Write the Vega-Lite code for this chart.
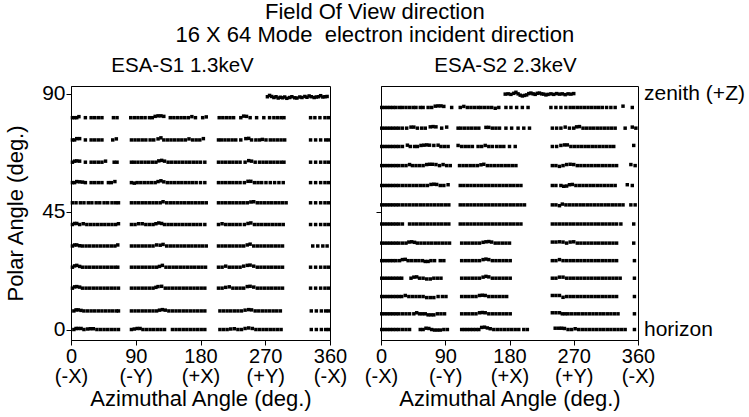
{
  "$schema": "https://vega.github.io/schema/vega-lite/v6.json",
  "padding": {"left": 4, "top": 0, "right": 2, "bottom": 2},
  "title": {
    "text": ["Field Of View direction", "16 X 64 Mode\u00a0 electron incident direction"],
    "fontSize": 22,
    "lineHeight": 23,
    "anchor": "middle",
    "offset": 9
  },
  "datasets": {
    "s1": [
      {"az":273,"pol":88.9},{"az":276,"pol":89.4},{"az":279,"pol":89.0},{"az":282,"pol":88.6},{"az":285,"pol":88.9},{"az":288,"pol":88.4},{"az":291,"pol":88.7},{"az":294,"pol":88.5},{"az":297,"pol":88.8},{"az":300,"pol":88.3},{"az":304,"pol":88.6},{"az":307,"pol":88.9},{"az":311,"pol":88.5},{"az":314,"pol":88.4},{"az":318,"pol":88.8},{"az":321,"pol":88.6},{"az":325,"pol":89.0},{"az":328,"pol":88.7},{"az":331,"pol":89.2},{"az":334,"pol":88.9},{"az":338,"pol":88.6},{"az":341,"pol":88.8},{"az":344,"pol":88.9},{"az":347,"pol":89.3},{"az":350,"pol":88.8},{"az":353,"pol":88.9},{"az":356,"pol":89.0},
      {"az":2,"pol":80.9},{"az":5,"pol":80.9},{"az":8,"pol":80.9},{"az":11,"pol":81.3},{"az":20,"pol":80.9},{"az":28,"pol":80.9},{"az":33,"pol":80.9},{"az":38,"pol":80.9},{"az":43,"pol":80.9},{"az":59,"pol":80.9},{"az":64,"pol":80.9},
      {"az":83,"pol":80.9},{"az":88,"pol":80.9},{"az":93,"pol":80.9},{"az":98,"pol":80.9},{"az":103,"pol":80.9},{"az":109,"pol":80.9},{"az":113,"pol":80.9},{"az":117,"pol":81.4},{"az":121,"pol":81.6},{"az":125,"pol":81.6},{"az":129,"pol":81.4},{"az":138,"pol":80.9},{"az":143,"pol":80.9},{"az":148,"pol":80.9},{"az":153,"pol":80.9},{"az":158,"pol":80.9},{"az":163,"pol":80.9},{"az":168,"pol":81.3},{"az":173,"pol":80.9},{"az":183,"pol":80.9},{"az":188,"pol":81.2},
      {"az":206,"pol":80.9},{"az":211,"pol":80.9},{"az":216,"pol":80.9},{"az":221,"pol":80.9},{"az":226,"pol":80.9},{"az":236,"pol":80.9},{"az":240,"pol":81.5},{"az":244,"pol":81.4},{"az":249,"pol":80.9},{"az":258,"pol":80.9},{"az":268,"pol":80.9},{"az":276,"pol":80.9},{"az":282,"pol":80.9},{"az":287,"pol":80.9},{"az":292,"pol":80.9},{"az":296,"pol":80.9},
      {"az":333,"pol":80.9},{"az":339,"pol":80.9},{"az":346,"pol":80.9},{"az":353,"pol":80.9},{"az":358,"pol":80.9},
      {"az":2,"pol":72.4},{"az":5,"pol":72.4},{"az":8,"pol":72.9},{"az":12,"pol":72.9},{"az":20,"pol":72.4},{"az":28,"pol":72.4},{"az":33,"pol":72.4},{"az":38,"pol":72.4},{"az":43,"pol":72.4},{"az":58,"pol":72.4},{"az":63,"pol":72.8},
      {"az":84,"pol":72.4},{"az":89,"pol":72.4},{"az":94,"pol":72.4},{"az":99,"pol":72.4},{"az":104,"pol":72.4},{"az":110,"pol":72.4},{"az":115,"pol":72.4},{"az":121,"pol":72.8},{"az":125,"pol":73.2},{"az":129,"pol":72.4},{"az":134,"pol":72.4},{"az":139,"pol":72.4},{"az":144,"pol":72.4},{"az":149,"pol":72.4},{"az":154,"pol":72.4},{"az":159,"pol":72.4},{"az":164,"pol":72.8},{"az":169,"pol":72.4},{"az":174,"pol":72.4},{"az":179,"pol":72.4},{"az":184,"pol":72.9},
      {"az":205,"pol":72.4},{"az":209,"pol":72.4},{"az":214,"pol":72.4},{"az":219,"pol":72.4},{"az":224,"pol":72.4},{"az":229,"pol":72.4},{"az":236,"pol":72.4},{"az":243,"pol":72.9},{"az":247,"pol":73.0},{"az":251,"pol":72.4},{"az":257,"pol":72.4},{"az":262,"pol":72.4},{"az":266,"pol":72.6},{"az":271,"pol":72.4},{"az":277,"pol":72.4},{"az":282,"pol":72.4},{"az":287,"pol":72.4},{"az":292,"pol":72.4},{"az":297,"pol":72.4},
      {"az":333,"pol":72.4},{"az":340,"pol":72.4},{"az":347,"pol":72.4},{"az":354,"pol":72.4},{"az":358,"pol":72.4},
      {"az":2,"pol":63.9},{"az":5,"pol":64.3},{"az":8,"pol":64.4},{"az":12,"pol":64.3},{"az":20,"pol":63.9},{"az":28,"pol":63.9},{"az":33,"pol":63.9},{"az":38,"pol":63.9},{"az":43,"pol":63.9},{"az":48,"pol":64.3},{"az":60,"pol":63.9},{"az":64,"pol":63.9},
      {"az":84,"pol":63.9},{"az":88,"pol":63.9},{"az":93,"pol":63.9},{"az":98,"pol":63.9},{"az":103,"pol":63.9},{"az":108,"pol":63.9},{"az":113,"pol":63.9},{"az":118,"pol":63.9},{"az":122,"pol":64.4},{"az":126,"pol":64.6},{"az":130,"pol":64.3},{"az":135,"pol":63.9},{"az":140,"pol":63.9},{"az":145,"pol":63.9},{"az":150,"pol":63.9},{"az":155,"pol":63.9},{"az":160,"pol":63.9},{"az":165,"pol":63.9},{"az":170,"pol":63.9},{"az":175,"pol":63.9},{"az":180,"pol":63.9},{"az":186,"pol":63.9},
      {"az":205,"pol":63.9},{"az":210,"pol":63.9},{"az":215,"pol":63.9},{"az":220,"pol":63.9},{"az":225,"pol":63.9},{"az":230,"pol":63.9},{"az":235,"pol":63.9},{"az":242,"pol":63.9},{"az":247,"pol":64.5},{"az":251,"pol":64.3},{"az":256,"pol":63.9},{"az":262,"pol":63.9},{"az":267,"pol":63.9},{"az":272,"pol":63.9},{"az":277,"pol":63.9},{"az":282,"pol":63.9},{"az":287,"pol":63.9},{"az":292,"pol":63.9},{"az":296,"pol":63.9},
      {"az":333,"pol":63.9},{"az":340,"pol":63.9},{"az":347,"pol":63.9},{"az":353,"pol":63.9},{"az":358,"pol":63.9},
      {"az":2,"pol":56.1},{"az":5,"pol":56.1},{"az":8,"pol":56.5},{"az":12,"pol":56.4},{"az":16,"pol":56.3},{"az":20,"pol":56.1},{"az":28,"pol":56.1},{"az":33,"pol":56.1},{"az":38,"pol":56.1},{"az":43,"pol":56.1},{"az":52,"pol":56.1},{"az":56,"pol":56.1},{"az":61,"pol":56.5},
      {"az":84,"pol":56.1},{"az":88,"pol":55.9},{"az":92,"pol":56.1},{"az":97,"pol":56.1},{"az":102,"pol":56.1},{"az":107,"pol":56.1},{"az":112,"pol":56.1},{"az":117,"pol":56.1},{"az":121,"pol":56.5},{"az":125,"pol":56.8},{"az":129,"pol":56.4},{"az":134,"pol":56.1},{"az":139,"pol":56.1},{"az":144,"pol":56.1},{"az":149,"pol":56.1},{"az":154,"pol":56.1},{"az":159,"pol":56.1},{"az":164,"pol":56.1},{"az":169,"pol":56.1},{"az":174,"pol":56.1},{"az":180,"pol":56.1},{"az":186,"pol":56.1},
      {"az":205,"pol":56.1},{"az":210,"pol":56.1},{"az":215,"pol":56.1},{"az":220,"pol":56.1},{"az":225,"pol":56.1},{"az":230,"pol":56.1},{"az":235,"pol":56.1},{"az":241,"pol":56.1},{"az":246,"pol":56.6},{"az":250,"pol":56.6},{"az":255,"pol":56.1},{"az":260,"pol":56.1},{"az":265,"pol":56.1},{"az":271,"pol":56.1},{"az":277,"pol":56.1},{"az":283,"pol":56.1},{"az":289,"pol":56.1},{"az":295,"pol":56.1},
      {"az":333,"pol":56.1},{"az":340,"pol":56.1},{"az":347,"pol":56.1},{"az":353,"pol":56.1},{"az":358,"pol":56.1},
      {"az":2,"pol":48.4},{"az":7,"pol":48.4},{"az":13,"pol":48.4},{"az":18,"pol":48.4},{"az":24,"pol":48.4},{"az":29,"pol":48.4},{"az":35,"pol":48.4},{"az":40,"pol":48.4},{"az":46,"pol":48.4},{"az":51,"pol":48.4},{"az":57,"pol":48.4},{"az":62,"pol":48.4},{"az":66,"pol":48.4},
      {"az":84,"pol":48.4},{"az":89,"pol":48.4},{"az":94,"pol":48.4},{"az":99,"pol":48.4},{"az":104,"pol":48.4},{"az":109,"pol":48.4},{"az":114,"pol":48.4},{"az":119,"pol":48.4},{"az":124,"pol":48.4},{"az":128,"pol":48.8},{"az":133,"pol":48.4},{"az":138,"pol":48.4},{"az":143,"pol":48.4},{"az":148,"pol":48.4},{"az":153,"pol":48.4},{"az":158,"pol":48.4},{"az":163,"pol":48.4},{"az":168,"pol":48.4},{"az":173,"pol":48.4},{"az":178,"pol":48.4},{"az":183,"pol":48.4},{"az":188,"pol":48.4},
      {"az":205,"pol":48.4},{"az":210,"pol":48.4},{"az":215,"pol":48.4},{"az":220,"pol":48.4},{"az":225,"pol":48.4},{"az":230,"pol":48.4},{"az":235,"pol":48.4},{"az":240,"pol":48.4},{"az":245,"pol":48.4},{"az":250,"pol":48.7},{"az":254,"pol":48.8},{"az":259,"pol":48.4},{"az":264,"pol":48.4},{"az":269,"pol":48.4},{"az":274,"pol":48.4},{"az":279,"pol":48.4},{"az":284,"pol":48.4},{"az":289,"pol":48.4},{"az":294,"pol":48.4},{"az":299,"pol":48.4},
      {"az":333,"pol":48.4},{"az":340,"pol":48.4},{"az":347,"pol":48.4},{"az":353,"pol":48.4},{"az":358,"pol":48.4},
      {"az":2,"pol":40.1},{"az":5,"pol":40.5},{"az":8,"pol":40.5},{"az":12,"pol":40.1},{"az":17,"pol":40.4},{"az":22,"pol":40.1},{"az":27,"pol":40.1},{"az":32,"pol":40.1},{"az":37,"pol":40.1},{"az":42,"pol":40.1},{"az":47,"pol":40.1},{"az":52,"pol":40.1},{"az":57,"pol":40.1},{"az":62,"pol":40.1},{"az":66,"pol":40.4},
      {"az":84,"pol":40.1},{"az":89,"pol":40.1},{"az":94,"pol":40.4},{"az":99,"pol":40.4},{"az":104,"pol":40.1},{"az":109,"pol":40.1},{"az":114,"pol":40.1},{"az":118,"pol":40.4},{"az":122,"pol":40.7},{"az":126,"pol":40.5},{"az":130,"pol":40.1},{"az":135,"pol":40.1},{"az":140,"pol":40.1},{"az":145,"pol":40.1},{"az":150,"pol":40.1},{"az":155,"pol":40.1},{"az":160,"pol":40.1},{"az":165,"pol":40.1},{"az":170,"pol":40.1},{"az":175,"pol":40.1},{"az":180,"pol":40.1},{"az":186,"pol":40.1},
      {"az":205,"pol":40.1},{"az":210,"pol":40.4},{"az":215,"pol":40.1},{"az":220,"pol":40.1},{"az":225,"pol":40.1},{"az":230,"pol":40.1},{"az":235,"pol":40.1},{"az":241,"pol":40.1},{"az":246,"pol":40.5},{"az":250,"pol":40.7},{"az":255,"pol":40.1},{"az":260,"pol":40.1},{"az":265,"pol":40.1},{"az":270,"pol":40.1},{"az":275,"pol":40.1},{"az":280,"pol":40.1},{"az":285,"pol":40.1},{"az":290,"pol":40.1},{"az":295,"pol":40.1},
      {"az":333,"pol":40.1},{"az":340,"pol":40.1},{"az":347,"pol":40.1},{"az":353,"pol":40.1},{"az":358,"pol":40.1},
      {"az":2,"pol":31.9},{"az":5,"pol":32.3},{"az":8,"pol":32.3},{"az":12,"pol":32.0},{"az":16,"pol":31.9},{"az":21,"pol":31.9},{"az":26,"pol":31.9},{"az":31,"pol":31.9},{"az":36,"pol":31.9},{"az":41,"pol":31.9},{"az":46,"pol":31.9},{"az":51,"pol":31.9},{"az":56,"pol":31.9},{"az":61,"pol":31.9},{"az":65,"pol":32.3},
      {"az":84,"pol":31.9},{"az":89,"pol":31.9},{"az":94,"pol":31.9},{"az":99,"pol":31.9},{"az":104,"pol":31.9},{"az":109,"pol":31.9},{"az":114,"pol":31.9},{"az":119,"pol":32.3},{"az":124,"pol":32.2},{"az":128,"pol":32.5},{"az":133,"pol":31.9},{"az":138,"pol":31.9},{"az":143,"pol":31.9},{"az":148,"pol":31.9},{"az":153,"pol":31.9},{"az":158,"pol":31.9},{"az":163,"pol":31.9},{"az":168,"pol":31.9},{"az":173,"pol":31.9},{"az":178,"pol":31.9},{"az":183,"pol":31.9},{"az":188,"pol":31.9},
      {"az":205,"pol":31.9},{"az":210,"pol":31.9},{"az":215,"pol":31.9},{"az":220,"pol":31.9},{"az":225,"pol":31.9},{"az":230,"pol":31.9},{"az":235,"pol":31.9},{"az":240,"pol":31.9},{"az":245,"pol":32.3},{"az":249,"pol":32.6},{"az":254,"pol":31.9},{"az":259,"pol":31.9},{"az":264,"pol":31.9},{"az":269,"pol":31.9},{"az":274,"pol":31.9},{"az":279,"pol":31.9},{"az":284,"pol":31.9},{"az":289,"pol":31.9},{"az":294,"pol":31.9},
      {"az":336,"pol":31.9},{"az":343,"pol":31.9},{"az":350,"pol":31.9},{"az":356,"pol":31.9},
      {"az":2,"pol":23.8},{"az":5,"pol":24.3},{"az":8,"pol":24.5},{"az":12,"pol":24.1},{"az":16,"pol":23.8},{"az":21,"pol":23.8},{"az":26,"pol":23.8},{"az":31,"pol":23.8},{"az":36,"pol":23.8},{"az":41,"pol":23.8},{"az":46,"pol":23.8},{"az":51,"pol":23.8},{"az":56,"pol":23.8},{"az":61,"pol":23.8},{"az":65,"pol":23.8},
      {"az":84,"pol":23.8},{"az":89,"pol":23.8},{"az":94,"pol":23.8},{"az":99,"pol":23.8},{"az":104,"pol":23.8},{"az":109,"pol":23.8},{"az":114,"pol":23.8},{"az":119,"pol":23.8},{"az":123,"pol":24.1},{"az":127,"pol":24.5},{"az":132,"pol":23.8},{"az":137,"pol":23.8},{"az":142,"pol":23.8},{"az":147,"pol":23.8},{"az":152,"pol":23.8},{"az":157,"pol":23.8},{"az":162,"pol":23.8},{"az":167,"pol":23.8},{"az":172,"pol":23.8},{"az":177,"pol":23.8},{"az":182,"pol":23.8},{"az":187,"pol":23.8},
      {"az":205,"pol":23.8},{"az":210,"pol":23.8},{"az":215,"pol":24.2},{"az":220,"pol":23.8},{"az":225,"pol":23.8},{"az":230,"pol":23.8},{"az":235,"pol":23.8},{"az":240,"pol":24.2},{"az":245,"pol":24.5},{"az":249,"pol":24.6},{"az":254,"pol":24.2},{"az":259,"pol":23.8},{"az":264,"pol":23.8},{"az":269,"pol":23.8},{"az":274,"pol":23.8},{"az":279,"pol":23.8},{"az":284,"pol":23.8},{"az":289,"pol":23.8},{"az":294,"pol":23.8},
      {"az":333,"pol":23.8},{"az":340,"pol":23.8},{"az":347,"pol":23.8},{"az":353,"pol":23.8},{"az":358,"pol":23.8},
      {"az":2,"pol":15.8},{"az":5,"pol":16.3},{"az":8,"pol":16.4},{"az":12,"pol":16.2},{"az":16,"pol":15.8},{"az":21,"pol":15.8},{"az":26,"pol":15.8},{"az":31,"pol":15.8},{"az":36,"pol":15.8},{"az":41,"pol":15.8},{"az":46,"pol":15.8},{"az":51,"pol":15.8},{"az":56,"pol":15.8},{"az":61,"pol":15.8},{"az":66,"pol":15.8},
      {"az":84,"pol":15.8},{"az":89,"pol":15.8},{"az":94,"pol":15.8},{"az":99,"pol":15.8},{"az":104,"pol":15.8},{"az":109,"pol":15.8},{"az":114,"pol":15.8},{"az":118,"pol":16.1},{"az":121,"pol":16.4},{"az":126,"pol":16.5},{"az":131,"pol":15.8},{"az":136,"pol":15.8},{"az":141,"pol":15.8},{"az":146,"pol":15.8},{"az":151,"pol":15.8},{"az":156,"pol":15.8},{"az":161,"pol":15.8},{"az":166,"pol":15.8},{"az":171,"pol":15.8},{"az":176,"pol":15.8},{"az":181,"pol":15.8},{"az":186,"pol":15.8},
      {"az":205,"pol":15.8},{"az":210,"pol":15.8},{"az":215,"pol":16.1},{"az":220,"pol":16.3},{"az":225,"pol":15.8},{"az":230,"pol":15.8},{"az":235,"pol":15.8},{"az":240,"pol":15.8},{"az":245,"pol":16.4},{"az":249,"pol":16.5},{"az":254,"pol":16.2},{"az":259,"pol":15.8},{"az":264,"pol":15.8},{"az":269,"pol":15.8},{"az":274,"pol":15.8},{"az":279,"pol":15.8},{"az":284,"pol":15.8},{"az":289,"pol":15.8},{"az":294,"pol":15.8},
      {"az":333,"pol":15.8},{"az":340,"pol":15.8},{"az":347,"pol":15.8},{"az":353,"pol":15.8},{"az":358,"pol":15.8},
      {"az":4,"pol":7.1},{"az":7,"pol":7.5},{"az":10,"pol":7.5},{"az":14,"pol":7.3},{"az":18,"pol":7.1},{"az":23,"pol":7.1},{"az":28,"pol":7.1},{"az":33,"pol":7.1},{"az":38,"pol":7.1},{"az":43,"pol":7.1},{"az":48,"pol":7.1},{"az":53,"pol":7.1},{"az":58,"pol":7.1},{"az":63,"pol":7.1},{"az":66,"pol":7.1},
      {"az":84,"pol":7.1},{"az":89,"pol":7.1},{"az":94,"pol":7.1},{"az":99,"pol":7.1},{"az":104,"pol":7.1},{"az":109,"pol":7.1},{"az":114,"pol":7.1},{"az":119,"pol":7.1},{"az":123,"pol":7.4},{"az":127,"pol":7.6},{"az":131,"pol":7.4},{"az":136,"pol":7.1},{"az":141,"pol":7.1},{"az":146,"pol":7.1},{"az":151,"pol":7.1},{"az":156,"pol":7.1},{"az":161,"pol":7.1},{"az":166,"pol":7.1},{"az":171,"pol":7.1},{"az":176,"pol":7.1},{"az":181,"pol":7.1},{"az":186,"pol":7.1},
      {"az":207,"pol":7.1},{"az":212,"pol":7.1},{"az":217,"pol":7.1},{"az":222,"pol":7.1},{"az":227,"pol":7.1},{"az":232,"pol":7.1},{"az":237,"pol":7.1},{"az":242,"pol":7.4},{"az":247,"pol":7.6},{"az":251,"pol":7.5},{"az":256,"pol":7.1},{"az":261,"pol":7.1},{"az":266,"pol":7.1},{"az":271,"pol":7.1},{"az":276,"pol":7.1},{"az":281,"pol":7.1},{"az":286,"pol":7.1},{"az":291,"pol":7.1},
      {"az":334,"pol":7.1},{"az":341,"pol":7.1},{"az":348,"pol":7.1},{"az":354,"pol":7.1},{"az":358,"pol":7.1},
      {"az":4,"pol":0},{"az":7,"pol":0.4},{"az":10,"pol":0.4},{"az":14,"pol":0.4},{"az":18,"pol":0},{"az":23,"pol":0.2},{"az":27,"pol":0.3},{"az":31,"pol":0.3},{"az":36,"pol":0},{"az":41,"pol":0},{"az":46,"pol":0},{"az":51,"pol":0},{"az":56,"pol":0},{"az":61,"pol":0},{"az":66,"pol":0},
      {"az":84,"pol":0},{"az":88,"pol":0.2},{"az":92,"pol":0.4},{"az":96,"pol":0.4},{"az":100,"pol":0},{"az":105,"pol":0},{"az":110,"pol":0},{"az":115,"pol":0},{"az":120,"pol":0},{"az":125,"pol":0},{"az":130,"pol":0},
      {"az":141,"pol":0},{"az":146,"pol":0},{"az":151,"pol":0},{"az":156,"pol":0},{"az":161,"pol":0},{"az":166,"pol":0},{"az":171,"pol":0},{"az":176,"pol":0},{"az":181,"pol":0},{"az":186,"pol":0},
      {"az":207,"pol":0},{"az":212,"pol":0},{"az":217,"pol":0},{"az":222,"pol":0.2},{"az":227,"pol":0.3},{"az":232,"pol":0},{"az":237,"pol":0},{"az":242,"pol":0.4},{"az":247,"pol":0.6},{"az":252,"pol":0.4},{"az":257,"pol":0},{"az":262,"pol":0},{"az":267,"pol":0},{"az":272,"pol":0},{"az":277,"pol":0},{"az":282,"pol":0},{"az":287,"pol":0},{"az":292,"pol":0},
      {"az":334,"pol":0},{"az":341,"pol":0},{"az":348,"pol":0},{"az":354,"pol":0},{"az":358,"pol":0}
    ],
    "s2": [
      {"az":174,"pol":89.9},{"az":178,"pol":90.0},{"az":182,"pol":89.8},{"az":186,"pol":90.2},{"az":189,"pol":90.6},{"az":192,"pol":90.0},{"az":195,"pol":89.5},{"az":198,"pol":89.2},{"az":201,"pol":89.4},{"az":204,"pol":89.6},{"az":207,"pol":90.1},{"az":210,"pol":90.3},{"az":213,"pol":90.0},{"az":216,"pol":89.8},{"az":219,"pol":90.2},{"az":222,"pol":90.3},{"az":225,"pol":90.0},{"az":228,"pol":89.9},{"az":231,"pol":89.6},{"az":234,"pol":89.8},{"az":238,"pol":90.0},{"az":242,"pol":89.8},{"az":246,"pol":90.1},{"az":250,"pol":89.9},{"az":254,"pol":90.0},{"az":258,"pol":89.7},{"az":262,"pol":90.0},{"az":266,"pol":89.9},{"az":270,"pol":90.1},
      {"az":1,"pol":84.8},{"az":5,"pol":84.8},{"az":9,"pol":84.8},{"az":13,"pol":84.8},{"az":17,"pol":84.8},{"az":21,"pol":84.8},{"az":26,"pol":84.8},{"az":30,"pol":84.8},{"az":35,"pol":84.8},{"az":40,"pol":84.8},{"az":45,"pol":84.8},{"az":49,"pol":84.8},{"az":55,"pol":84.8},{"az":59,"pol":84.8},{"az":66,"pol":84.8},{"az":71,"pol":84.8},{"az":76,"pol":85.3},{"az":80,"pol":85.4},{"az":84,"pol":85.4},{"az":88,"pol":85.2},{"az":99,"pol":84.8},{"az":111,"pol":84.8},{"az":116,"pol":85.2},{"az":121,"pol":84.8},{"az":126,"pol":84.8},{"az":131,"pol":84.8},{"az":136,"pol":84.8},{"az":140,"pol":84.8},{"az":145,"pol":84.8},{"az":150,"pol":84.8},{"az":155,"pol":84.8},{"az":160,"pol":84.5},{"az":165,"pol":84.8},{"az":175,"pol":84.8},{"az":182,"pol":84.8},{"az":190,"pol":84.8},{"az":198,"pol":84.8},{"az":206,"pol":84.8},
      {"az":238,"pol":84.8},{"az":245,"pol":84.8},{"az":252,"pol":84.8},{"az":259,"pol":84.8},{"az":265,"pol":84.8},{"az":270,"pol":84.8},{"az":275,"pol":84.8},{"az":280,"pol":84.8},{"az":285,"pol":84.8},{"az":290,"pol":84.8},{"az":295,"pol":84.8},{"az":300,"pol":84.8},{"az":305,"pol":84.8},{"az":310,"pol":84.8},{"az":316,"pol":84.8},{"az":322,"pol":84.8},{"az":328,"pol":84.8},{"az":339,"pol":85.3},{"az":352,"pol":84.8},
      {"az":1,"pol":76.9},{"az":5,"pol":76.9},{"az":9,"pol":76.9},{"az":13,"pol":76.9},{"az":17,"pol":76.9},{"az":21,"pol":76.9},{"az":25,"pol":76.9},{"az":30,"pol":76.9},{"az":36,"pol":76.9},{"az":42,"pol":77.3},{"az":46,"pol":77.3},{"az":51,"pol":76.9},{"az":57,"pol":76.9},{"az":62,"pol":76.9},{"az":69,"pol":77.4},{"az":73,"pol":77.5},{"az":77,"pol":77.4},{"az":85,"pol":76.9},{"az":92,"pol":77.3},{"az":108,"pol":76.9},{"az":112,"pol":76.9},{"az":117,"pol":76.9},{"az":122,"pol":76.9},{"az":127,"pol":76.9},{"az":132,"pol":76.9},{"az":137,"pol":76.9},{"az":147,"pol":77.2},{"az":151,"pol":77.2},{"az":156,"pol":76.9},{"az":161,"pol":76.9},{"az":166,"pol":76.9},{"az":175,"pol":76.9},{"az":183,"pol":76.9},{"az":192,"pol":76.9},{"az":200,"pol":76.9},{"az":208,"pol":76.9},
      {"az":240,"pol":76.9},{"az":246,"pol":76.9},{"az":252,"pol":76.9},{"az":258,"pol":77.3},{"az":264,"pol":76.9},{"az":270,"pol":76.9},{"az":274,"pol":77.4},{"az":278,"pol":77.5},{"az":283,"pol":76.9},{"az":288,"pol":76.9},{"az":293,"pol":76.9},{"az":298,"pol":76.9},{"az":303,"pol":76.9},{"az":308,"pol":76.9},{"az":313,"pol":76.9},{"az":318,"pol":76.9},{"az":323,"pol":76.9},{"az":328,"pol":76.9},{"az":342,"pol":76.9},{"az":352,"pol":77.3},{"az":357,"pol":76.9},
      {"az":1,"pol":69.9},{"az":5,"pol":69.9},{"az":9,"pol":69.9},{"az":13,"pol":69.9},{"az":17,"pol":69.9},{"az":21,"pol":69.9},{"az":25,"pol":69.9},{"az":30,"pol":69.9},{"az":37,"pol":70.4},{"az":41,"pol":69.9},{"az":47,"pol":69.9},{"az":51,"pol":69.9},{"az":56,"pol":70.3},{"az":60,"pol":70.4},{"az":64,"pol":70.5},{"az":68,"pol":70.4},{"az":74,"pol":70.3},{"az":80,"pol":70.4},{"az":84,"pol":69.9},{"az":89,"pol":69.9},{"az":94,"pol":69.9},{"az":108,"pol":70.3},{"az":113,"pol":69.9},{"az":118,"pol":69.9},{"az":123,"pol":69.9},{"az":128,"pol":69.9},{"az":136,"pol":69.9},{"az":141,"pol":69.9},{"az":146,"pol":70.3},{"az":151,"pol":69.9},{"az":156,"pol":69.9},{"az":162,"pol":69.9},{"az":167,"pol":69.9},{"az":172,"pol":69.9},{"az":180,"pol":69.9},{"az":188,"pol":69.9},
      {"az":240,"pol":69.9},{"az":246,"pol":69.9},{"az":252,"pol":70.3},{"az":257,"pol":70.5},{"az":261,"pol":70.5},{"az":266,"pol":69.9},{"az":271,"pol":69.9},{"az":276,"pol":69.9},{"az":281,"pol":69.9},{"az":286,"pol":69.9},{"az":291,"pol":69.9},{"az":296,"pol":69.9},{"az":301,"pol":69.9},{"az":306,"pol":69.9},{"az":311,"pol":69.9},{"az":316,"pol":69.9},{"az":321,"pol":69.9},{"az":326,"pol":69.9},{"az":354,"pol":70.3},
      {"az":1,"pol":62.6},{"az":5,"pol":62.6},{"az":9,"pol":62.6},{"az":13,"pol":62.6},{"az":17,"pol":62.6},{"az":21,"pol":62.6},{"az":25,"pol":62.6},{"az":30,"pol":62.6},{"az":35,"pol":62.6},{"az":40,"pol":63.0},{"az":44,"pol":62.6},{"az":49,"pol":62.6},{"az":54,"pol":62.6},{"az":59,"pol":62.6},{"az":64,"pol":63.0},{"az":68,"pol":63.1},{"az":72,"pol":63.1},{"az":77,"pol":63.0},{"az":82,"pol":62.6},{"az":87,"pol":63.0},{"az":92,"pol":62.6},{"az":97,"pol":62.6},
      {"az":110,"pol":62.6},{"az":115,"pol":62.6},{"az":120,"pol":62.6},{"az":125,"pol":62.6},{"az":130,"pol":62.6},{"az":135,"pol":62.6},{"az":140,"pol":62.9},{"az":144,"pol":63.1},{"az":149,"pol":62.6},{"az":154,"pol":62.6},{"az":159,"pol":62.6},{"az":164,"pol":62.6},{"az":169,"pol":62.6},{"az":174,"pol":62.6},{"az":179,"pol":62.6},{"az":184,"pol":62.6},{"az":189,"pol":62.6},
      {"az":240,"pol":62.6},{"az":245,"pol":62.6},{"az":250,"pol":62.3},{"az":255,"pol":62.6},{"az":260,"pol":63.0},{"az":265,"pol":63.1},{"az":270,"pol":63.0},{"az":275,"pol":62.6},{"az":280,"pol":62.6},{"az":285,"pol":62.6},{"az":290,"pol":62.6},{"az":295,"pol":62.6},{"az":300,"pol":62.6},{"az":305,"pol":62.6},{"az":310,"pol":62.6},{"az":315,"pol":62.6},{"az":320,"pol":62.6},{"az":325,"pol":62.6},{"az":330,"pol":62.6},{"az":350,"pol":63.0},{"az":356,"pol":62.6},
      {"az":1,"pol":55.0},{"az":5,"pol":55.0},{"az":9,"pol":55.0},{"az":13,"pol":55.0},{"az":17,"pol":55.0},{"az":21,"pol":55.0},{"az":25,"pol":55.0},{"az":30,"pol":55.0},{"az":35,"pol":55.0},{"az":40,"pol":55.0},{"az":45,"pol":55.0},{"az":50,"pol":55.0},{"az":55,"pol":55.0},{"az":60,"pol":55.0},{"az":65,"pol":55.0},{"az":70,"pol":55.4},{"az":74,"pol":55.5},{"az":78,"pol":55.4},{"az":83,"pol":55.0},{"az":88,"pol":55.0},{"az":94,"pol":55.3},
      {"az":111,"pol":55.0},{"az":116,"pol":55.0},{"az":121,"pol":55.0},{"az":126,"pol":55.0},{"az":131,"pol":55.0},{"az":136,"pol":55.0},{"az":141,"pol":55.0},{"az":146,"pol":55.0},{"az":151,"pol":55.0},{"az":156,"pol":55.0},{"az":161,"pol":55.0},{"az":166,"pol":55.0},{"az":171,"pol":55.0},{"az":176,"pol":55.0},{"az":181,"pol":55.0},{"az":186,"pol":55.0},{"az":191,"pol":55.0},{"az":196,"pol":55.0},
      {"az":240,"pol":55.0},{"az":245,"pol":55.0},{"az":252,"pol":55.0},{"az":256,"pol":54.7},{"az":260,"pol":54.8},{"az":264,"pol":55.3},{"az":268,"pol":55.4},{"az":273,"pol":55.0},{"az":278,"pol":55.0},{"az":283,"pol":55.0},{"az":288,"pol":55.0},{"az":293,"pol":55.0},{"az":298,"pol":55.0},{"az":303,"pol":55.0},{"az":308,"pol":55.0},{"az":313,"pol":55.0},{"az":318,"pol":55.0},{"az":323,"pol":55.0},{"az":328,"pol":55.0},{"az":345,"pol":55.3},{"az":352,"pol":55.0},
      {"az":1,"pol":47.6},{"az":5,"pol":47.6},{"az":9,"pol":47.6},{"az":13,"pol":47.6},{"az":17,"pol":47.6},{"az":21,"pol":47.6},{"az":25,"pol":47.6},{"az":30,"pol":47.6},{"az":35,"pol":47.6},{"az":40,"pol":47.6},{"az":45,"pol":47.6},{"az":50,"pol":47.6},{"az":55,"pol":47.6},{"az":60,"pol":47.6},{"az":65,"pol":47.6},{"az":70,"pol":47.6},{"az":75,"pol":47.6},{"az":80,"pol":47.6},{"az":85,"pol":47.6},{"az":90,"pol":47.6},{"az":95,"pol":47.6},
      {"az":111,"pol":47.6},{"az":116,"pol":47.6},{"az":121,"pol":47.6},{"az":126,"pol":47.6},{"az":131,"pol":47.6},{"az":136,"pol":47.6},{"az":141,"pol":47.6},{"az":146,"pol":47.6},{"az":151,"pol":47.6},{"az":156,"pol":47.6},{"az":161,"pol":47.6},{"az":166,"pol":47.6},{"az":171,"pol":47.6},{"az":176,"pol":47.6},{"az":181,"pol":47.6},{"az":186,"pol":47.6},{"az":191,"pol":47.6},{"az":196,"pol":47.6},{"az":201,"pol":47.6},
      {"az":240,"pol":47.6},{"az":245,"pol":47.6},{"az":250,"pol":47.3},{"az":254,"pol":47.9},{"az":259,"pol":47.6},{"az":264,"pol":47.6},{"az":269,"pol":47.6},{"az":274,"pol":47.6},{"az":279,"pol":47.6},{"az":284,"pol":47.6},{"az":289,"pol":47.6},{"az":294,"pol":47.6},{"az":299,"pol":47.6},{"az":304,"pol":47.6},{"az":309,"pol":47.6},{"az":314,"pol":47.6},{"az":319,"pol":47.6},{"az":324,"pol":47.6},{"az":329,"pol":47.6},{"az":334,"pol":47.6},{"az":339,"pol":47.6},{"az":350,"pol":47.6},{"az":356,"pol":47.6},
      {"az":1,"pol":40.3},{"az":5,"pol":40.3},{"az":9,"pol":40.3},{"az":13,"pol":40.3},{"az":17,"pol":40.3},{"az":21,"pol":40.3},{"az":25,"pol":40.3},{"az":30,"pol":40.3},{"az":40,"pol":40.3},{"az":45,"pol":40.3},{"az":50,"pol":40.3},{"az":55,"pol":40.3},{"az":60,"pol":40.3},{"az":65,"pol":40.3},{"az":70,"pol":40.3},{"az":75,"pol":40.3},{"az":80,"pol":40.3},{"az":85,"pol":40.3},{"az":90,"pol":40.3},{"az":95,"pol":40.3},
      {"az":111,"pol":40.3},{"az":116,"pol":40.3},{"az":121,"pol":40.3},{"az":126,"pol":40.3},{"az":131,"pol":40.3},{"az":136,"pol":40.3},{"az":141,"pol":40.3},{"az":146,"pol":40.3},{"az":151,"pol":40.3},{"az":156,"pol":40.3},{"az":161,"pol":40.3},{"az":166,"pol":40.3},{"az":171,"pol":40.3},{"az":176,"pol":40.3},{"az":181,"pol":40.3},{"az":186,"pol":40.3},{"az":191,"pol":40.3},{"az":196,"pol":40.3},
      {"az":240,"pol":40.3},{"az":245,"pol":40.3},{"az":250,"pol":40.3},{"az":255,"pol":40.3},{"az":260,"pol":40.3},{"az":265,"pol":40.3},{"az":270,"pol":40.3},{"az":275,"pol":40.3},{"az":280,"pol":40.3},{"az":285,"pol":40.3},{"az":290,"pol":40.3},{"az":295,"pol":40.3},{"az":300,"pol":40.3},{"az":305,"pol":40.3},{"az":310,"pol":40.3},{"az":315,"pol":40.3},{"az":320,"pol":40.3},{"az":325,"pol":40.3},{"az":330,"pol":40.3},{"az":336,"pol":40.3},{"az":354,"pol":40.3},
      {"az":1,"pol":33.0},{"az":5,"pol":33.0},{"az":9,"pol":33.0},{"az":13,"pol":33.0},{"az":17,"pol":33.0},{"az":21,"pol":33.0},{"az":25,"pol":33.0},{"az":30,"pol":33.0},{"az":35,"pol":33.0},{"az":39,"pol":33.4},{"az":43,"pol":33.5},{"az":47,"pol":33.3},{"az":51,"pol":33.0},{"az":56,"pol":33.0},{"az":61,"pol":33.0},{"az":66,"pol":33.0},{"az":71,"pol":33.0},{"az":76,"pol":33.0},{"az":81,"pol":33.0},{"az":86,"pol":33.0},{"az":91,"pol":33.0},{"az":96,"pol":33.0},
      {"az":113,"pol":33.0},{"az":118,"pol":33.0},{"az":123,"pol":33.0},{"az":128,"pol":33.0},{"az":133,"pol":33.0},{"az":138,"pol":33.0},{"az":143,"pol":33.3},{"az":147,"pol":33.5},{"az":151,"pol":33.6},{"az":155,"pol":33.4},{"az":160,"pol":33.0},{"az":165,"pol":33.0},{"az":170,"pol":33.0},{"az":175,"pol":33.0},{"az":180,"pol":33.0},
      {"az":240,"pol":33.4},{"az":245,"pol":33.4},{"az":250,"pol":33.5},{"az":255,"pol":33.4},{"az":260,"pol":33.0},{"az":265,"pol":33.4},{"az":270,"pol":33.5},{"az":275,"pol":33.0},{"az":280,"pol":33.0},{"az":285,"pol":33.0},{"az":290,"pol":33.0},{"az":295,"pol":33.0},{"az":300,"pol":33.0},{"az":305,"pol":33.0},{"az":310,"pol":33.0},{"az":315,"pol":33.0},{"az":320,"pol":33.0},{"az":325,"pol":33.0},{"az":330,"pol":33.0},{"az":354,"pol":33.0},
      {"az":1,"pol":26.3},{"az":5,"pol":26.3},{"az":9,"pol":26.3},{"az":13,"pol":26.3},{"az":17,"pol":26.3},{"az":21,"pol":26.3},{"az":26,"pol":26.3},{"az":30,"pol":26.7},{"az":34,"pol":26.8},{"az":38,"pol":26.3},{"az":43,"pol":26.3},{"az":48,"pol":26.3},{"az":53,"pol":26.3},{"az":58,"pol":26.3},{"az":62,"pol":26.0},{"az":66,"pol":26.0},{"az":70,"pol":26.3},{"az":75,"pol":26.3},{"az":83,"pol":26.3},{"az":88,"pol":26.3},
      {"az":113,"pol":26.3},{"az":118,"pol":26.3},{"az":123,"pol":26.3},{"az":128,"pol":26.3},{"az":133,"pol":26.3},{"az":138,"pol":26.3},{"az":143,"pol":26.7},{"az":147,"pol":26.9},{"az":151,"pol":26.7},{"az":156,"pol":26.3},{"az":161,"pol":26.3},{"az":166,"pol":26.3},{"az":171,"pol":26.3},{"az":176,"pol":26.3},{"az":181,"pol":26.3},
      {"az":240,"pol":26.3},{"az":245,"pol":26.3},{"az":250,"pol":26.7},{"az":255,"pol":26.3},{"az":260,"pol":26.3},{"az":265,"pol":26.3},{"az":270,"pol":26.3},{"az":275,"pol":26.3},{"az":280,"pol":26.3},{"az":285,"pol":26.3},{"az":290,"pol":26.3},{"az":295,"pol":26.3},{"az":300,"pol":26.3},{"az":305,"pol":26.3},{"az":310,"pol":26.3},{"az":315,"pol":26.3},{"az":320,"pol":26.3},{"az":325,"pol":26.3},{"az":330,"pol":26.3},{"az":355,"pol":26.3},
      {"az":1,"pol":19.6},{"az":5,"pol":19.6},{"az":9,"pol":19.6},{"az":13,"pol":19.6},{"az":17,"pol":19.6},{"az":21,"pol":19.6},{"az":25,"pol":19.6},{"az":29,"pol":19.6},{"az":42,"pol":19.6},{"az":46,"pol":20.0},{"az":50,"pol":20.1},{"az":54,"pol":19.6},{"az":59,"pol":19.6},{"az":64,"pol":19.3},{"az":69,"pol":19.3},{"az":74,"pol":19.6},{"az":79,"pol":19.6},{"az":84,"pol":19.6},
      {"az":113,"pol":19.6},{"az":118,"pol":19.6},{"az":123,"pol":19.6},{"az":128,"pol":19.6},{"az":133,"pol":19.6},{"az":138,"pol":19.6},{"az":143,"pol":20.0},{"az":147,"pol":20.3},{"az":151,"pol":20.1},{"az":156,"pol":19.6},{"az":161,"pol":19.6},{"az":166,"pol":19.6},{"az":171,"pol":19.6},{"az":176,"pol":19.6},{"az":181,"pol":19.6},
      {"az":240,"pol":19.6},{"az":245,"pol":19.6},{"az":250,"pol":20.0},{"az":255,"pol":20.0},{"az":260,"pol":19.6},{"az":265,"pol":19.6},{"az":270,"pol":19.6},{"az":275,"pol":19.6},{"az":280,"pol":19.6},{"az":285,"pol":19.6},{"az":290,"pol":19.6},{"az":295,"pol":19.6},{"az":300,"pol":19.6},{"az":305,"pol":19.6},{"az":310,"pol":19.6},{"az":315,"pol":19.6},{"az":320,"pol":19.6},{"az":325,"pol":19.6},{"az":330,"pol":19.6},{"az":335,"pol":19.6},{"az":355,"pol":19.6},
      {"az":1,"pol":12.6},{"az":5,"pol":12.6},{"az":9,"pol":12.6},{"az":13,"pol":12.6},{"az":17,"pol":12.6},{"az":21,"pol":12.6},{"az":25,"pol":12.6},{"az":29,"pol":12.6},{"az":34,"pol":13.0},{"az":39,"pol":12.6},{"az":44,"pol":12.6},{"az":49,"pol":12.6},{"az":54,"pol":12.6},{"az":59,"pol":12.6},{"az":64,"pol":12.2},{"az":69,"pol":12.2},{"az":74,"pol":12.2},{"az":80,"pol":12.6},{"az":86,"pol":12.6},{"az":91,"pol":12.6},
      {"az":113,"pol":12.6},{"az":118,"pol":12.6},{"az":123,"pol":12.6},{"az":128,"pol":12.6},{"az":133,"pol":12.6},{"az":138,"pol":13.0},{"az":142,"pol":13.1},{"az":146,"pol":13.0},{"az":151,"pol":12.6},{"az":156,"pol":12.6},{"az":161,"pol":12.6},{"az":166,"pol":12.6},{"az":171,"pol":12.6},{"az":176,"pol":12.6},
      {"az":240,"pol":13.0},{"az":245,"pol":13.0},{"az":250,"pol":13.0},{"az":255,"pol":12.3},{"az":260,"pol":12.6},{"az":265,"pol":12.6},{"az":270,"pol":12.6},{"az":275,"pol":12.6},{"az":280,"pol":12.6},{"az":285,"pol":12.6},{"az":290,"pol":12.6},{"az":295,"pol":12.6},{"az":300,"pol":12.6},{"az":305,"pol":12.6},{"az":310,"pol":12.6},{"az":315,"pol":12.6},{"az":320,"pol":12.6},{"az":325,"pol":12.6},{"az":330,"pol":12.6},{"az":355,"pol":12.6},
      {"az":1,"pol":6.0},{"az":5,"pol":6.0},{"az":9,"pol":6.0},{"az":13,"pol":6.0},{"az":17,"pol":6.0},{"az":21,"pol":6.0},{"az":25,"pol":6.0},{"az":30,"pol":6.0},{"az":35,"pol":6.0},{"az":40,"pol":6.0},{"az":46,"pol":6.0},{"az":50,"pol":6.4},{"az":54,"pol":6.0},{"az":58,"pol":6.0},{"az":62,"pol":6.0},{"az":66,"pol":5.6},{"az":70,"pol":5.6},{"az":74,"pol":5.6},{"az":79,"pol":6.0},{"az":84,"pol":6.0},{"az":89,"pol":6.0},
      {"az":113,"pol":6.0},{"az":118,"pol":6.0},{"az":123,"pol":6.0},{"az":128,"pol":6.0},{"az":133,"pol":6.0},{"az":138,"pol":6.4},{"az":142,"pol":6.5},{"az":146,"pol":6.4},{"az":151,"pol":6.0},{"az":156,"pol":6.0},{"az":161,"pol":6.0},{"az":166,"pol":6.0},{"az":171,"pol":6.0},{"az":176,"pol":6.0},{"az":181,"pol":6.0},
      {"az":240,"pol":6.4},{"az":245,"pol":6.4},{"az":250,"pol":6.4},{"az":254,"pol":6.0},{"az":258,"pol":6.0},{"az":262,"pol":6.0},{"az":267,"pol":6.0},{"az":272,"pol":6.0},{"az":277,"pol":6.0},{"az":282,"pol":6.0},{"az":287,"pol":6.0},{"az":292,"pol":6.0},{"az":297,"pol":6.0},{"az":302,"pol":6.0},{"az":307,"pol":6.0},{"az":312,"pol":6.0},{"az":317,"pol":6.0},{"az":322,"pol":6.0},{"az":327,"pol":6.0},{"az":332,"pol":6.0},{"az":355,"pol":6.0},
      {"az":1,"pol":0},{"az":5,"pol":0},{"az":9,"pol":0},{"az":13,"pol":0},{"az":17,"pol":0},{"az":21,"pol":0},{"az":25,"pol":0},{"az":30,"pol":0},{"az":35,"pol":0},{"az":40,"pol":0},
      {"az":55,"pol":0},{"az":59,"pol":0},{"az":63,"pol":0.5},{"az":67,"pol":0.4},{"az":71,"pol":0},{"az":75,"pol":-0.2},{"az":79,"pol":-0.2},{"az":83,"pol":-0.2},{"az":88,"pol":0},{"az":93,"pol":0},
      {"az":113,"pol":0},{"az":117,"pol":0},{"az":121,"pol":0},{"az":125,"pol":0},{"az":129,"pol":0},{"az":133,"pol":0},{"az":137,"pol":0},{"az":141,"pol":0.8},{"az":145,"pol":0.9},{"az":149,"pol":0.6},{"az":153,"pol":0.3},{"az":158,"pol":0},{"az":163,"pol":0},{"az":168,"pol":0},{"az":173,"pol":0},{"az":178,"pol":0},{"az":183,"pol":0},{"az":188,"pol":0},{"az":193,"pol":0},{"az":200,"pol":0},{"az":205,"pol":0},
      {"az":244,"pol":0.5},{"az":249,"pol":0.5},{"az":253,"pol":0.5},{"az":257,"pol":0.4},{"az":262,"pol":0},{"az":267,"pol":0},{"az":272,"pol":0.3},{"az":277,"pol":0},{"az":282,"pol":0},{"az":287,"pol":0},{"az":292,"pol":0},{"az":297,"pol":0},{"az":302,"pol":0},{"az":307,"pol":0},{"az":312,"pol":0},{"az":317,"pol":0},{"az":322,"pol":0},{"az":327,"pol":0},{"az":332,"pol":0},{"az":337,"pol":0},{"az":342,"pol":0},{"az":355,"pol":0}
    ]
  },
  "spacing": 51,
  "bounds": "flush",
  "hconcat": [
    {
      "title": {"text": "ESA-S1 1.3keV", "dx": -18},
      "width": 259,
      "height": 254,
      "data": {"name": "s1"},
      "mark": {"type": "square", "size": 12, "color": "black", "opacity": 1},
      "encoding": {
        "x": {
          "field": "az", "type": "quantitative",
          "scale": {"domain": [0, 360], "nice": false, "zero": false},
          "axis": {
            "values": [0, 90, 180, 270, 360],
            "labelExpr": "[datum.label, datum.value == 90 ? '(-Y)' : datum.value == 180 ? '(+X)' : datum.value == 270 ? '(+Y)' : '(-X)']",
            "title": "Azimuthal Angle (deg.)"
          }
        },
        "y": {
          "field": "pol", "type": "quantitative",
          "scale": {"domain": [-4, 93], "nice": false, "zero": false},
          "axis": {"values": [0, 45, 90], "labelFontSize": 21, "title": "Polar Angle (deg.)", "titlePadding": 14}
        }
      }
    },
    {
      "title": {"text": "ESA-S2 2.3keV", "dx": -4},
      "width": 257,
      "height": 254,
      "layer": [
        {
          "data": {"name": "s2"},
          "mark": {"type": "square", "size": 12, "color": "black", "opacity": 1},
          "encoding": {
            "x": {
              "field": "az", "type": "quantitative",
              "scale": {"domain": [0, 360], "nice": false, "zero": false},
              "axis": {
                "values": [0, 90, 180, 270, 360],
                "labelExpr": "[datum.label, datum.value == 90 ? '(-Y)' : datum.value == 180 ? '(+X)' : datum.value == 270 ? '(+Y)' : '(-X)']",
                "title": "Azimuthal Angle (deg.)"
              }
            },
            "y": {
              "field": "pol", "type": "quantitative",
              "scale": {"domain": [-4, 93], "nice": false, "zero": false},
              "axis": {"values": [45], "labels": false, "title": null}
            }
          }
        },
        {
          "data": {"values": [
            {"az": 360, "pol": 90, "side": "zenith (+Z)"},
            {"az": 360, "pol": 0, "side": "horizon"}
          ]},
          "mark": {"type": "text", "align": "left", "baseline": "middle", "dx": 6, "fontSize": 21, "color": "black"},
          "encoding": {
            "x": {"field": "az", "type": "quantitative"},
            "y": {"field": "pol", "type": "quantitative"},
            "text": {"field": "side"}
          }
        }
      ]
    }
  ],
  "config": {
    "font": "Liberation Sans",
    "view": {"stroke": "black", "strokeWidth": 1},
    "axis": {
      "grid": false,
      "domainColor": "black",
      "tickColor": "black",
      "tickSize": 5,
      "labelColor": "black",
      "labelFontSize": 20,
      "labelLineHeight": 20,
      "labelPadding": 1,
      "labelFlush": false,
      "labelOverlap": false,
      "titleColor": "black",
      "titleFontSize": 22,
      "titleFontWeight": "normal",
      "titlePadding": 2
    },
    "title": {"fontSize": 20.5, "fontWeight": "normal", "color": "black", "offset": 6}
  }
}
